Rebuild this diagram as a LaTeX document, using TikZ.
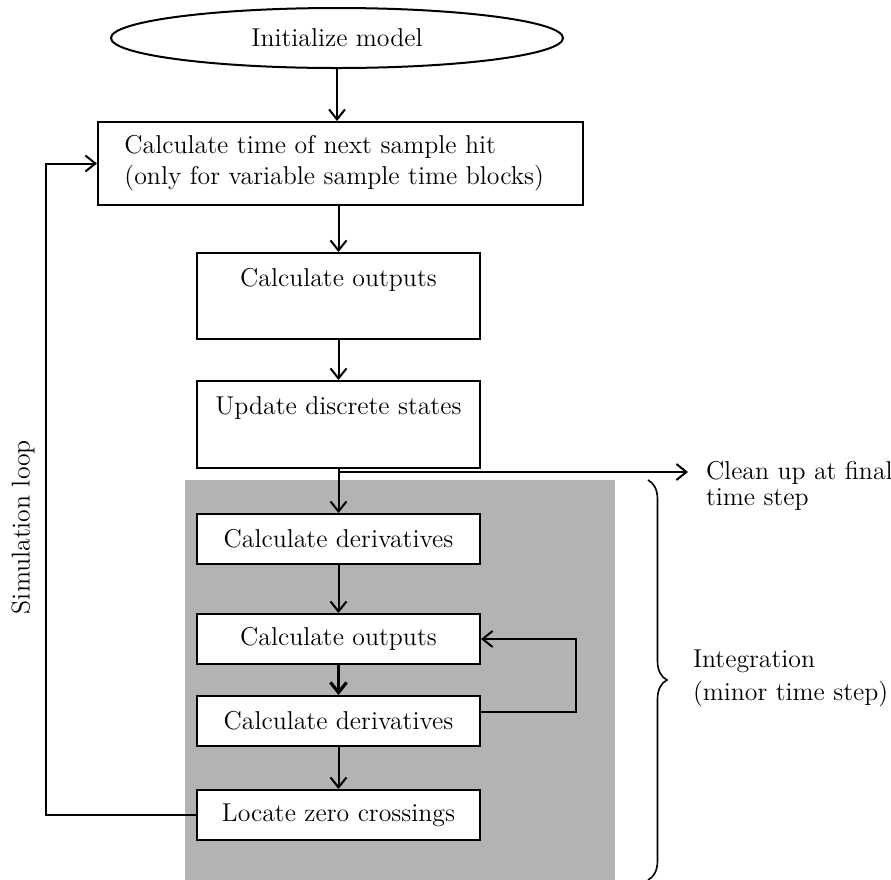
\documentclass[tikz,border=0pt]{standalone}
\usetikzlibrary{shapes.geometric,arrows.meta,decorations.pathreplacing}
\definecolor{integrgray}{RGB}{179,179,179}
\begin{document}
\begin{tikzpicture}[x=0.5pt,y=-0.5pt,line width=1pt,
        font=\fontsize{12.9}{15.5}\selectfont,
        box/.style={draw,rectangle,fill=white,minimum width=141.5pt,minimum height=25pt,inner sep=0pt},
        topbox/.style={box,anchor=north,minimum height=0pt,text height=16.5pt,text depth=#1},
        flow/.style={-{Straight Barb[length=5pt,width=8pt]}}]
        \useasboundingbox (0,0) rectangle (891,880);
        \fill[integrgray] (185,480) rectangle (615,880);
        \node[draw,ellipse,minimum width=226pt,minimum height=30pt,inner sep=0pt] (init) at (337,38) {Initialize model};
        \node[draw,text width=216pt,inner xsep=13.25pt,minimum height=41.5pt,align=left] (nexthit) at (340.5,163.5) {Calculate time of next sample hit\\(only for variable sample time blocks)};
        \node[topbox=26.5pt] (outputs) at (338.5,252) {Calculate outputs};
        \node[topbox=27pt] (update) at (338.5,380) {Update discrete states};
        \node[box] (deriv) at (338.5,539) {Calculate derivatives};
        \node[box] (minorout) at (338.5,639) {Calculate outputs};
        \node[box] (minorderiv) at (338.5,721) {Calculate derivatives};
        \node[box] (zerocross) at (338.5,815) {Locate zero crossings};
        \node[anchor=north west,inner sep=0pt,align=left,font=\fontsize{12.9}{13}\selectfont] (cleanup) at (705,460) {Clean up at final\\time step};
        \node[anchor=north west,inner sep=0pt,align=left,font=\fontsize{12.9}{16.5}\selectfont] (integ) at (692,649) {Integration\\(minor time step)};
        \node[rotate=90] (simloop) at (23,527) {Simulation loop};
        \coordinate (fork) at (338.5,472);
        \draw[flow] (init.south) -- (init.south |- nexthit.north);
        \draw[flow] (outputs.north |- nexthit.south) -- (outputs.north);
        \draw[flow] (outputs) -- (update);
        \draw[flow] (update) -- (deriv);
        \draw[flow,shorten >=8.5pt] (fork) -- (fork -| cleanup.west);
        \draw[flow] (deriv) -- (minorout);
        \draw[flow,line width=1.6pt] (minorout) -- (minorderiv);
        \draw[flow] (minorderiv) -- (zerocross);
        \draw[flow] ([yshift=4.5pt]minorderiv.east) -- ++(95,0) |- (minorout.east);
        \draw[flow] (zerocross.west) -- ++(-150,0) |- (nexthit.west);
        \draw[line width=0.8pt,decorate,decoration={brace,amplitude=9.5pt}] (648,480) -- (648,880);
    \end{tikzpicture}
\end{document}
